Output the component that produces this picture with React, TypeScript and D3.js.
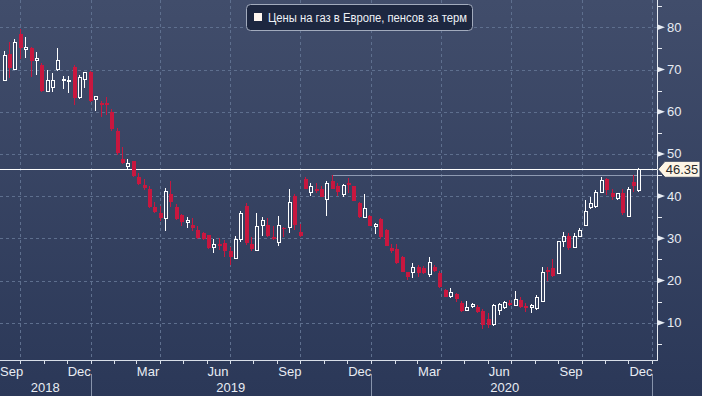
import * as d3 from "d3";
import { useEffect, useRef } from "react";

const WIDTH = 702;
const HEIGHT = 396;
const PLOT_RIGHT = 657;
const PLOT_BOTTOM = 360;

// weekly candles, first week starts 10 Sep 2018
const firstWeek = new Date(2018, 8, 10);

const opens = [
  67.5, 73.6, 70.0, 78.3, 74.7, 75.0, 72.2, 71.0, 64.9, 65.7, 69.9, 67.4, 67.2, 70.7, 63.3, 67.7, 69.3, 63.0, 62.0, 62.1,
  59.9, 55.4, 48.7, 47.1, 48.2, 44.5, 42.7, 41.6, 37.5, 36.1, 34.6, 40.5, 37.5, 35.5, 33.7, 33.2, 32.0, 31.3, 30.8, 27.8,
  28.6, 28.8, 27.0, 25.3, 29.8, 37.7, 28.6, 27.1, 33.0, 33.2, 30.4, 29.1, 32.5, 32.5, 40.0, 31.6, 44.0, 40.8, 41.8, 41.6,
  39.3, 43.6, 42.4, 40.4, 43.2, 42.4, 38.4, 34.9, 35.3, 32.7, 34.6, 32.0, 27.8, 27.5, 25.6, 21.9, 21.8, 23.1, 22.9, 21.5,
  23.3, 21.8, 17.7, 16.2, 16.8, 14.7, 12.9, 13.8, 13.8, 12.8, 10.9, 9.5, 12.8, 13.6, 14.7, 14.0, 15.4, 14.0, 13.6, 13.4,
  15.0, 22.5, 22.9, 21.7, 29.2, 30.5, 27.9, 30.4, 33.0, 37.3, 37.5, 40.9, 44.0, 40.7, 39.5, 40.7, 35.1, 43.3, 41.4,
];
const highs = [
  74.4, 76.4, 77.2, 79.5, 77.6, 75.4, 74.1, 71.6, 69.9, 69.2, 75.2, 68.5, 68.5, 71.0, 68.6, 69.5, 69.6, 63.8, 62.6, 63.6,
  60.6, 56.1, 51.6, 48.7, 48.3, 45.4, 44.0, 42.4, 38.7, 37.6, 42.0, 43.6, 38.1, 35.7, 35.0, 34.7, 32.9, 31.6, 30.9, 29.8,
  30.1, 29.6, 28.0, 30.5, 36.5, 38.3, 30.2, 35.9, 35.0, 34.7, 32.9, 35.3, 32.6, 41.7, 40.4, 33.4, 44.6, 43.2, 43.1, 42.4,
  43.6, 45.0, 43.1, 42.8, 44.2, 42.5, 38.7, 40.5, 35.6, 33.6, 34.8, 32.2, 28.6, 28.6, 25.7, 22.0, 24.1, 23.7, 23.4, 25.5,
  23.6, 22.3, 18.1, 18.2, 17.1, 15.2, 15.1, 14.6, 14.1, 13.2, 12.2, 14.4, 14.6, 15.2, 15.4, 17.5, 16.0, 14.7, 14.4, 16.6,
  23.1, 23.1, 25.2, 29.4, 31.6, 31.3, 31.3, 32.5, 39.1, 39.9, 41.4, 44.5, 44.2, 41.6, 40.8, 41.6, 42.1, 45.0, 46.6,
];
const lows = [
  67.3, 68.1, 69.8, 72.4, 72.8, 68.3, 68.7, 64.7, 64.6, 64.7, 69.7, 65.4, 64.5, 61.6, 63.0, 65.5, 62.3, 60.2, 58.8, 59.2,
  55.5, 49.8, 47.7, 46.2, 44.6, 42.7, 41.4, 37.2, 36.0, 34.2, 31.8, 37.5, 34.3, 32.9, 32.4, 31.8, 29.9, 29.6, 27.4, 26.4,
  27.2, 25.6, 23.7, 25.0, 29.2, 28.4, 27.1, 27.0, 30.5, 30.2, 29.6, 28.2, 30.4, 31.3, 32.0, 30.3, 41.6, 40.1, 40.7, 39.7,
  35.3, 41.6, 40.0, 39.9, 40.7, 38.8, 34.8, 34.7, 32.8, 31.0, 29.8, 28.1, 26.6, 23.9, 21.9, 20.1, 20.7, 20.9, 21.5, 20.8,
  21.9, 18.3, 16.0, 15.9, 15.0, 12.6, 12.8, 13.5, 12.2, 8.4, 8.7, 9.3, 11.8, 13.2, 13.9, 13.9, 13.5, 12.6, 12.4, 13.0,
  14.8, 19.9, 20.9, 21.5, 28.0, 27.3, 27.7, 30.2, 32.8, 37.0, 37.2, 40.7, 40.3, 39.1, 39.1, 35.6, 35.0, 41.0, 41.0,
];
const closes = [
  73.4, 70.3, 76.4, 75.0, 75.3, 72.1, 72.6, 65.0, 67.3, 67.3, 72.2, 67.7, 67.4, 63.3, 68.1, 69.2, 62.5, 63.6, 61.6, 61.7,
  55.9, 50.1, 47.9, 47.8, 44.8, 42.9, 42.0, 37.5, 36.2, 34.7, 41.2, 38.5, 34.5, 33.9, 34.3, 32.5, 30.0, 29.8, 27.6, 28.6,
  28.2, 27.1, 25.6, 29.8, 35.9, 28.8, 27.4, 32.9, 34.1, 30.5, 29.8, 33.1, 32.1, 38.4, 33.2, 30.5, 41.7, 42.2, 41.3, 39.9,
  42.9, 41.8, 40.9, 42.4, 42.6, 38.9, 35.0, 37.1, 32.9, 33.2, 30.4, 28.2, 27.0, 24.1, 22.1, 20.8, 23.0, 21.7, 21.8, 24.2,
  22.2, 18.5, 16.2, 17.1, 15.5, 12.8, 13.6, 14.3, 12.6, 9.5, 9.5, 14.0, 14.2, 14.7, 14.1, 15.4, 13.8, 13.4, 14.0, 15.9,
  21.8, 22.1, 21.1, 29.2, 30.4, 27.6, 30.4, 31.8, 36.3, 38.3, 40.9, 43.6, 41.4, 39.9, 40.5, 35.9, 41.6, 42.4, 46.35,
];

const yTicks = [10, 20, 30, 40, 50, 60, 70, 80];
const yMinorTicks = [5, 15, 25, 35, 45, 55, 65, 75, 85];
const monthLabels = ["Sep", "Dec", "Mar", "Jun", "Sep", "Dec", "Mar", "Jun", "Sep", "Dec"];
const yearLabels = ["2018", "2019", "2020"];
const legendLabel = "Цены на газ в Европе, пенсов за терм";
const lastPrice = 46.35;
const refHighIndex = 61;

const FONT = "'Liberation Sans', Arial, sans-serif";
const RED = "#c8173f";

const App = () => {
  const svgRef = useRef(null);

  useEffect(() => {
    const svg = d3.select(svgRef.current);
    svg.selectAll("*").remove();

    const candles = opens.map((o, i) => ({
      date: d3.timeDay.offset(firstWeek, 7 * i),
      o,
      h: highs[i],
      l: lows[i],
      c: closes[i],
    }));

    const x = d3
      .scaleTime()
      .domain([new Date(2018, 8, 5, 5), new Date(2021, 0, 7, 5)])
      .range([0, PLOT_RIGHT]);
    const y = d3.scaleLinear().domain([10, 80]).range([322.7, 27.3]);

    // background
    const defs = svg.append("defs");
    const grad = defs
      .append("linearGradient")
      .attr("id", "bg")
      .attr("x1", 0)
      .attr("y1", 0)
      .attr("x2", 0)
      .attr("y2", 1);
    grad.append("stop").attr("offset", "0%").attr("stop-color", "#414d6b");
    grad.append("stop").attr("offset", "100%").attr("stop-color", "#2b3858");
    svg.append("rect").attr("width", WIDTH).attr("height", HEIGHT).attr("fill", "url(#bg)");

    // grid
    const grid = svg.append("g").attr("stroke", "#5e6f8e").attr("stroke-dasharray", "3,3").attr("shape-rendering", "crispEdges");
    grid
      .selectAll("line.h")
      .data(yTicks)
      .join("line")
      .attr("x1", 0)
      .attr("x2", PLOT_RIGHT)
      .attr("y1", (d) => Math.round(y(d)) + 0.5)
      .attr("y2", (d) => Math.round(y(d)) + 0.5);
    const quarters = d3.timeMonth.every(3).range(x.domain()[0], x.domain()[1]);
    grid
      .selectAll("line.v")
      .data(quarters)
      .join("line")
      .attr("x1", (d) => Math.round(x(d)) + 0.5)
      .attr("x2", (d) => Math.round(x(d)) + 0.5)
      .attr("y1", 0)
      .attr("y2", PLOT_BOTTOM);

    // legend
    const legend = svg.append("g");
    legend
      .append("rect")
      .attr("x", 246.5)
      .attr("y", 4.5)
      .attr("width", 226)
      .attr("height", 26)
      .attr("rx", 4)
      .attr("fill", "#1d2740")
      .attr("stroke", "#a2abbd");
    legend.append("rect").attr("x", 254).attr("y", 13).attr("width", 8).attr("height", 8).attr("fill", "#fff6f0");
    legend
      .append("text")
      .attr("x", 268)
      .attr("y", 22)
      .attr("font-family", FONT)
      .attr("font-size", 12)
      .attr("fill", "#eef1f6")
      .attr("textLength", 199)
      .attr("lengthAdjust", "spacingAndGlyphs")
      .text(legendLabel);

    // reference lines
    svg
      .append("line")
      .attr("x1", x(candles[refHighIndex].date))
      .attr("x2", PLOT_RIGHT)
      .attr("y1", Math.round(y(highs[refHighIndex])) + 0.5)
      .attr("y2", Math.round(y(highs[refHighIndex])) + 0.5)
      .attr("stroke", "#8e9ab2");
    svg
      .append("line")
      .attr("x1", 0)
      .attr("x2", PLOT_RIGHT)
      .attr("y1", Math.round(y(lastPrice)) + 0.5)
      .attr("y2", Math.round(y(lastPrice)) + 0.5)
      .attr("stroke", "#ffffff")
      .attr("stroke-width", 1.2);

    // candles
    const cg = svg.append("g").attr("shape-rendering", "crispEdges");
    cg.selectAll("line.wick")
      .data(candles)
      .join("line")
      .attr("x1", (d) => Math.round(x(d.date)) + 0.5)
      .attr("x2", (d) => Math.round(x(d.date)) + 0.5)
      .attr("y1", (d) => y(d.h))
      .attr("y2", (d) => y(d.l))
      .attr("stroke", (d) => (d.c >= d.o ? "#ffffff" : RED));
    cg.selectAll("rect.body")
      .data(candles)
      .join("rect")
      .attr("x", (d) => (d.c >= d.o ? Math.round(x(d.date)) - 1 : Math.round(x(d.date)) - 1.5))
      .attr("width", (d) => (d.c >= d.o ? 3 : 4))
      .attr("y", (d) => y(Math.max(d.o, d.c)))
      .attr("height", (d) => Math.max(1, Math.abs(y(d.o) - y(d.c))))
      .attr("fill", (d) => (d.c >= d.o ? "#3a4664" : RED))
      .attr("stroke", (d) => (d.c >= d.o ? "#ffffff" : "none"));

    // right axis
    const axis = svg.append("g").attr("shape-rendering", "crispEdges");
    axis
      .append("line")
      .attr("x1", PLOT_RIGHT + 0.5)
      .attr("x2", PLOT_RIGHT + 0.5)
      .attr("y1", 0)
      .attr("y2", PLOT_BOTTOM)
      .attr("stroke", "#e8ecf3");
    axis
      .selectAll("line.minor")
      .data(yMinorTicks)
      .join("line")
      .attr("x1", PLOT_RIGHT)
      .attr("x2", PLOT_RIGHT + 5)
      .attr("y1", (d) => Math.round(y(d)) + 0.5)
      .attr("y2", (d) => Math.round(y(d)) + 0.5)
      .attr("stroke", "#e8ecf3");
    svg
      .selectAll("path.major")
      .data(yTicks)
      .join("path")
      .attr("d", (d) => `M${PLOT_RIGHT},${y(d) - 3}L${PLOT_RIGHT + 8},${y(d)}L${PLOT_RIGHT},${y(d) + 3}Z`)
      .attr("fill", "#e8ecf3");
    svg
      .selectAll("text.ytick")
      .data(yTicks)
      .join("text")
      .attr("x", PLOT_RIGHT + 10)
      .attr("y", (d) => y(d) + 4.5)
      .attr("font-family", FONT)
      .attr("font-size", 13)
      .attr("fill", "#e8ecf3")
      .text((d) => d);

    // last price tag
    const ly = y(lastPrice);
    svg
      .append("path")
      .attr("d", `M${PLOT_RIGHT + 1},${ly}L${PLOT_RIGHT + 8},${ly - 8}L700,${ly - 8}L700,${ly + 8}L${PLOT_RIGHT + 8},${ly + 8}Z`)
      .attr("fill", "#fdf5e6")
      .attr("stroke", "#3a4560");
    svg
      .append("text")
      .attr("x", 682)
      .attr("y", ly + 5)
      .attr("text-anchor", "middle")
      .attr("font-family", FONT)
      .attr("font-size", 13)
      .attr("fill", "#2a2a2a")
      .text(lastPrice.toFixed(2));

    // bottom axis
    const bottom = svg.append("g").attr("shape-rendering", "crispEdges");
    bottom
      .append("line")
      .attr("x1", 0)
      .attr("x2", PLOT_RIGHT + 1)
      .attr("y1", PLOT_BOTTOM + 0.5)
      .attr("y2", PLOT_BOTTOM + 0.5)
      .attr("stroke", "#d8dee8");
    const months = d3.timeMonth.range(x.domain()[0], x.domain()[1]);
    bottom
      .selectAll("line.mtick")
      .data(months)
      .join("line")
      .attr("x1", (d) => Math.round(x(d)) + 0.5)
      .attr("x2", (d) => Math.round(x(d)) + 0.5)
      .attr("y1", PLOT_BOTTOM)
      .attr("y2", PLOT_BOTTOM + 4)
      .attr("stroke", "#d8dee8");
    const labelMonths = [d3.timeMonth.floor(x.domain()[0])].concat(months.filter((d) => d.getMonth() % 3 === 2)).slice(-monthLabels.length);
    svg
      .selectAll("text.month")
      .data(labelMonths)
      .join("text")
      .attr("x", (d) => Math.max(0, x(d) + 1))
      .attr("y", 376)
      .attr("font-family", FONT)
      .attr("font-size", 13)
      .attr("fill", "#e8ecf3")
      .text((d, i) => monthLabels[i]);

    const years = d3.timeYear.range(new Date(2019, 0, 1), x.domain()[1]);
    bottom
      .selectAll("line.year")
      .data(years)
      .join("line")
      .attr("x1", (d) => Math.round(x(d)) + 0.5)
      .attr("x2", (d) => Math.round(x(d)) + 0.5)
      .attr("y1", PLOT_BOTTOM + 14)
      .attr("y2", HEIGHT)
      .attr("stroke", "#8793ab");
    const lastDate = candles[candles.length - 1].date;
    svg
      .selectAll("text.year")
      .data(yearLabels)
      .join("text")
      .attr("x", (d) => {
        const yr = +d;
        const a = Math.max(0, x(new Date(yr, 0, 1)));
        const b = Math.min(x(lastDate), x(new Date(yr + 1, 0, 1)));
        return (a + b) / 2;
      })
      .attr("y", 392)
      .attr("text-anchor", "middle")
      .attr("font-family", FONT)
      .attr("font-size", 13)
      .attr("fill", "#e8ecf3")
      .text((d) => d);
  }, []);

  return (
    <>
      <style>{`body{margin:0;background:#2b3858}`}</style>
      <svg ref={svgRef} width={WIDTH} height={HEIGHT} style={{ display: "block" }} />
    </>
  );
};

export default App;
